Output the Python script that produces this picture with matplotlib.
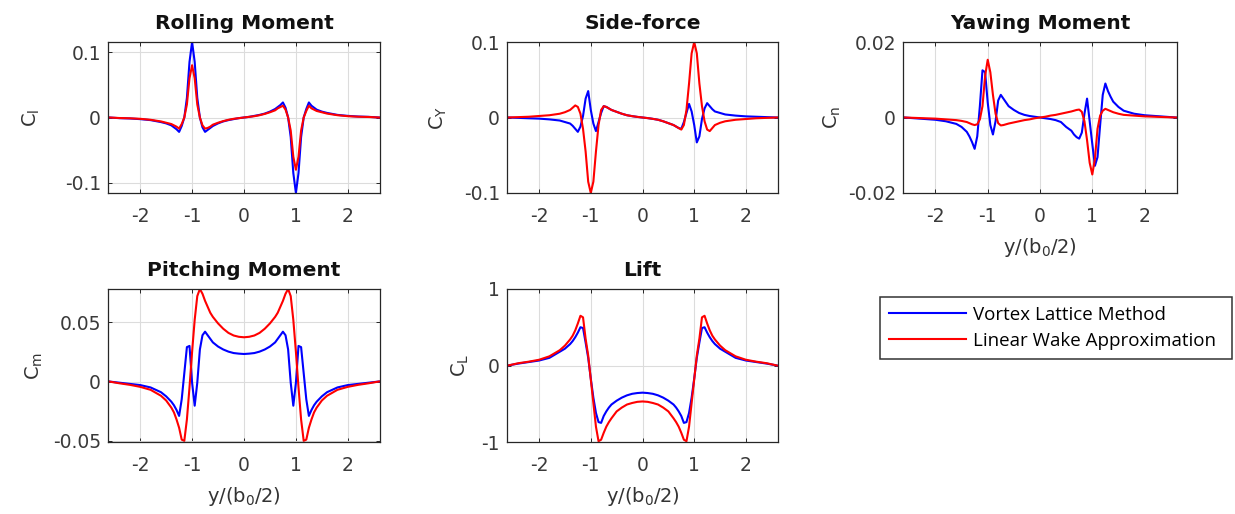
import matplotlib.pyplot as plt

plt.rcParams['font.family'] = ['DejaVu Sans']
plt.rcParams['mathtext.default'] = 'regular'
plt.rcParams['axes.unicode_minus'] = False

# spanwise stations y/(b0/2)
x = [-2.6, -2.4, -2.2, -2.0, -1.8, -1.6, -1.5, -1.4, -1.35, -1.3,
     -1.25, -1.2, -1.15, -1.1, -1.05, -1.0, -0.95, -0.9, -0.85, -0.8,
     -0.75, -0.7, -0.65, -0.6, -0.5, -0.4, -0.3, -0.2, -0.1, 0.0,
     0.1, 0.2, 0.3, 0.4, 0.5, 0.6, 0.65, 0.7, 0.75, 0.8,
     0.85, 0.9, 0.95, 1.0, 1.05, 1.1, 1.15, 1.2, 1.25, 1.3,
     1.35, 1.4, 1.5, 1.6, 1.8, 2.0, 2.2, 2.4, 2.6]

# Rolling moment
roll_vlm = [0.0, -0.001, -0.0015, -0.0025, -0.004, -0.007, -0.009, -0.012, -0.015, -0.018,
            -0.022, -0.013, 0.0, 0.03, 0.085, 0.1155, 0.085, 0.03, 0.0, -0.015,
            -0.022, -0.019, -0.016, -0.013, -0.009, -0.006, -0.004, -0.0025, -0.001, 0.0,
            0.001, 0.0025, 0.004, 0.006, 0.009, 0.013, 0.016, 0.019, 0.023, 0.015,
            0.0, -0.03, -0.085, -0.1155, -0.085, -0.03, 0.0, 0.013, 0.023, 0.018,
            0.015, 0.012, 0.009, 0.007, 0.004, 0.0025, 0.0015, 0.001, 0.0]
roll_lwa = [0.0, -0.0008, -0.0012, -0.002, -0.0035, -0.006, -0.008, -0.01, -0.012, -0.014,
            -0.017, -0.01, 0.0, 0.02, 0.06, 0.08, 0.06, 0.02, 0.0, -0.012,
            -0.017, -0.016, -0.014, -0.011, -0.008, -0.0055, -0.0035, -0.002, -0.001, 0.0,
            0.001, 0.002, 0.0035, 0.0055, 0.008, 0.011, 0.014, 0.016, 0.018, 0.012,
            0.0, -0.02, -0.06, -0.08, -0.06, -0.02, 0.0, 0.01, 0.018, 0.014,
            0.012, 0.01, 0.008, 0.006, 0.0035, 0.002, 0.0012, 0.0008, 0.0]

# Side-force
side_vlm = [0.0, -0.0005, -0.001, -0.0015, -0.0025, -0.004, -0.006, -0.008, -0.011, -0.015,
            -0.019, -0.012, 0.002, 0.025, 0.035, 0.01, -0.008, -0.018, -0.006, 0.006,
            0.015, 0.014, 0.012, 0.01, 0.0075, 0.005, 0.003, 0.0018, 0.0008, 0.0,
            -0.0008, -0.0018, -0.003, -0.005, -0.0075, -0.01, -0.012, -0.014, -0.015, -0.006,
            0.006, 0.018, 0.008, -0.01, -0.033, -0.025, -0.002, 0.012, 0.019, 0.015,
            0.011, 0.008, 0.006, 0.004, 0.0025, 0.0015, 0.001, 0.0005, 0.0]
side_lwa = [0.0, 0.0005, 0.001, 0.002, 0.003, 0.005, 0.007, 0.01, 0.013, 0.016,
            0.014, 0.005, -0.015, -0.045, -0.085, -0.1, -0.085, -0.045, -0.01, 0.01,
            0.015, 0.014, 0.012, 0.01, 0.0075, 0.005, 0.003, 0.0018, 0.0008, 0.0,
            -0.0008, -0.0018, -0.003, -0.005, -0.0075, -0.01, -0.012, -0.014, -0.016, -0.01,
            0.01, 0.045, 0.085, 0.1, 0.085, 0.045, 0.015, -0.005, -0.016, -0.018,
            -0.014, -0.01, -0.007, -0.005, -0.003, -0.002, -0.001, -0.0005, 0.0]

# Yawing moment
yaw_vlm = [0.0, -0.0002, -0.0004, -0.0006, -0.001, -0.0017, -0.0025, -0.0038, -0.005, -0.0065,
           -0.0083, -0.005, 0.003, 0.0125, 0.012, 0.004, -0.002, -0.0045, -0.001, 0.0045,
           0.006, 0.005, 0.004, 0.003, 0.002, 0.0012, 0.0007, 0.0004, 0.0002, 0.0,
           -0.0002, -0.0004, -0.0007, -0.0012, -0.0025, -0.0035, -0.0045, -0.0052, -0.0056, -0.004,
           0.001, 0.005, -0.001, -0.007, -0.0128, -0.0105, -0.002, 0.006, 0.009, 0.007,
           0.0055, 0.0042, 0.0028, 0.0018, 0.001, 0.0006, 0.0004, 0.0002, 0.0]
yaw_lwa = [0.0, -0.0001, -0.0002, -0.0003, -0.0005, -0.0007, -0.0009, -0.0012, -0.0015, -0.0018,
           -0.002, -0.0018, -0.0005, 0.003, 0.011, 0.0153, 0.012, 0.006, 0.001, -0.0015,
           -0.0021, -0.002, -0.0018, -0.0016, -0.0013, -0.001, -0.0007, -0.0005, -0.0002, 0.0,
           0.0002, 0.0005, 0.0007, 0.001, 0.0013, 0.0016, 0.0018, 0.002, 0.0021, 0.0015,
           -0.001, -0.006, -0.012, -0.0151, -0.011, -0.003, 0.0005, 0.0018, 0.0023, 0.002,
           0.0017, 0.0014, 0.001, 0.0007, 0.0005, 0.0003, 0.0002, 0.0001, 0.0]

# Pitching moment
pitch_vlm = [0.0, -0.001, -0.002, -0.003, -0.005, -0.009, -0.0125, -0.017, -0.02, -0.024,
             -0.029, -0.015, 0.007, 0.029, 0.03, -0.001, -0.0204, -0.001, 0.027, 0.039,
             0.042, 0.039, 0.036, 0.033, 0.0295, 0.027, 0.0252, 0.024, 0.0235, 0.0232,
             0.0235, 0.024, 0.0252, 0.027, 0.0295, 0.033, 0.036, 0.039, 0.042, 0.039,
             0.027, -0.001, -0.0204, -0.001, 0.03, 0.029, 0.007, -0.015, -0.029, -0.024,
             -0.02, -0.017, -0.0125, -0.009, -0.005, -0.003, -0.002, -0.001, 0.0]
pitch_lwa = [0.0, -0.0015, -0.0028, -0.0045, -0.007, -0.012, -0.016, -0.022, -0.026, -0.032,
             -0.039, -0.049, -0.05, -0.032, -0.005, 0.025, 0.052, 0.072, 0.078, 0.074,
             0.068, 0.063, 0.058, 0.0545, 0.049, 0.0445, 0.041, 0.0388, 0.0377, 0.0373,
             0.0377, 0.0388, 0.041, 0.0445, 0.049, 0.0545, 0.058, 0.063, 0.068, 0.074,
             0.078, 0.072, 0.052, 0.025, -0.005, -0.032, -0.05, -0.049, -0.039, -0.032,
             -0.026, -0.022, -0.016, -0.012, -0.007, -0.0045, -0.0028, -0.0015, 0.0]

# Lift
lift_vlm = [0.0, 0.025, 0.045, 0.065, 0.1, 0.18, 0.22, 0.28, 0.32, 0.37,
            0.43, 0.5, 0.49, 0.3, 0.1, -0.17, -0.42, -0.62, -0.74, -0.75,
            -0.66, -0.6, -0.55, -0.51, -0.46, -0.42, -0.39, -0.37, -0.36, -0.355,
            -0.36, -0.37, -0.39, -0.42, -0.46, -0.51, -0.55, -0.6, -0.66, -0.75,
            -0.74, -0.62, -0.42, -0.17, 0.1, 0.3, 0.49, 0.5, 0.43, 0.37,
            0.32, 0.28, 0.22, 0.18, 0.1, 0.065, 0.045, 0.025, 0.0]
lift_lwa = [0.0, 0.03, 0.05, 0.075, 0.12, 0.2, 0.26, 0.34, 0.39, 0.46,
            0.55, 0.65, 0.63, 0.35, 0.13, -0.18, -0.49, -0.8, -0.99, -0.97,
            -0.88, -0.8, -0.74, -0.69, -0.6, -0.55, -0.51, -0.49, -0.475, -0.47,
            -0.475, -0.49, -0.51, -0.55, -0.6, -0.69, -0.74, -0.8, -0.88, -0.97,
            -0.99, -0.8, -0.49, -0.18, 0.13, 0.35, 0.63, 0.65, 0.55, 0.46,
            0.39, 0.34, 0.26, 0.2, 0.12, 0.075, 0.05, 0.03, 0.0]

xticks = [-2, -1, 0, 1, 2]
labels = ['Vortex Lattice Method', 'Linear Wake Approximation']

W, H = 1235, 514
fig = plt.figure(figsize=(W / 100, H / 100), dpi=100)


def panel(px, title, vlm, lwa, ylab, ylim, yticks, yticklabels, ylab_right, xlab=False):
    l, t, r, b = px
    ax = fig.add_axes([l / W, 1 - b / H, (r - l) / W, (b - t) / H])
    h1, = ax.plot(x, vlm, color=(0, 0, 1), lw=1.5)
    h2, = ax.plot(x, lwa, color=(1, 0, 0), lw=1.5)
    ax.set_xlim(-2.62, 2.62)
    ax.set_ylim(*ylim)
    ax.set_xticks(xticks)
    ax.set_yticks(yticks)
    ax.set_yticklabels(yticklabels)
    ax.grid(True, color='#dcdcdc', lw=0.8)
    ax.set_axisbelow(True)
    ax.tick_params(direction='in', length=3, width=0.7, colors='#262626',
                   labelcolor='#3a3a3a', labelsize=13.5, top=True, right=True)
    ax.tick_params(axis='x', pad=10)
    ax.tick_params(axis='y', pad=5)
    for s in ax.spines.values():
        s.set_color('#262626')
        s.set_linewidth(0.9)
    ax.set_title(title, fontsize=14.5, fontweight='bold', color='#111111', pad=9)
    ax.set_ylabel(ylab, fontsize=14, color='#333333')
    ax.yaxis.set_label_coords((ylab_right - l) / (r - l), 0.5)
    if xlab:
        ax.set_xlabel('y/(b$_{0}$/2)', fontsize=14, color='#333333', labelpad=7)
    return h1, h2


panel((108, 42, 380, 193), 'Rolling Moment', roll_vlm, roll_lwa, 'C$_{l}$',
      (-0.1155, 0.1155), [-0.1, 0, 0.1], ['-0.1', '0', '0.1'], 42)
panel((507, 42, 778, 193), 'Side-force', side_vlm, side_lwa, 'C$_{Y}$',
      (-0.1, 0.1), [-0.1, 0, 0.1], ['-0.1', '0', '0.1'], 449)
panel((903, 42, 1177, 193), 'Yawing Moment', yaw_vlm, yaw_lwa, 'C$_{n}$',
      (-0.02, 0.02), [-0.02, 0, 0.02], ['-0.02', '0', '0.02'], 843, xlab=True)
panel((108, 289, 380, 442), 'Pitching Moment', pitch_vlm, pitch_lwa, 'C$_{m}$',
      (-0.051, 0.078), [-0.05, 0, 0.05], ['-0.05', '0', '0.05'], 45, xlab=True)
h = panel((507, 289, 778, 442), 'Lift', lift_vlm, lift_lwa, 'C$_{L}$',
          (-1, 1), [-1, 0, 1], ['-1', '0', '1'], 471, xlab=True)

leg = fig.legend(h, labels, loc='upper left',
                 bbox_to_anchor=(880 / W, 1 - 358 / H, 352 / W, 61 / H),
                 mode='expand', borderaxespad=0, fancybox=False,
                 edgecolor='#333333', framealpha=1,
                 prop={'family': 'Open Sans', 'size': 13.5},
                 handlelength=4.1, handletextpad=0.37, labelspacing=0.43,
                 borderpad=0.47)
leg.get_frame().set_linewidth(1.1)

fig.savefig('out.png', dpi=100)
